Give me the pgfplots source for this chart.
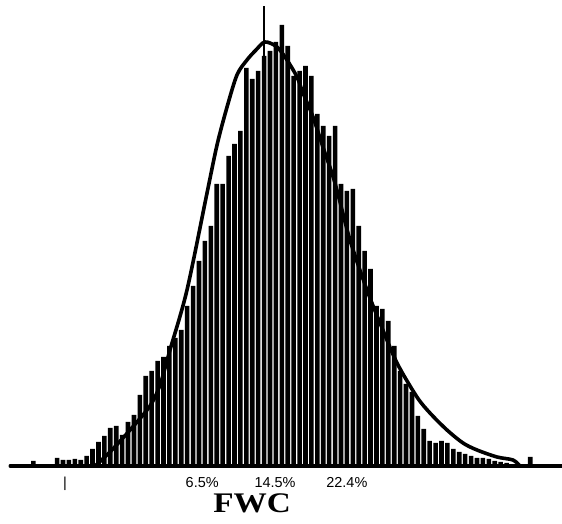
\documentclass[border=0pt]{standalone}
\usepackage{fontspec}
\usepackage{pgfplots}
\usepackage{pgfplotstable}
\pgfplotsset{compat=1.18}
\setmainfont{Liberation Sans}
\newfontfamily\titlefont[FakeStretch=1.17]{Liberation Serif}

% FWC histogram: bin centre (%) and frequency
\pgfplotstableread{
x      h
-12.05 5
-9.45  8
-8.8   6
-8.15  6
-7.5   7
-6.85  6
-6.2   10
-5.55  17
-4.9   24
-4.25  30
-3.6   38
-2.95  40
-2.3   31
-1.65  44
-1.0   51
-0.35  71
0.3    90
0.95   95
1.6    105
2.25   109
2.9    120
3.55   128
4.2    136
4.85   160
5.5    180
6.15   205
6.8    225
7.45   240
8.1    282
8.75   282
9.4    310
10.05  322
10.7   335
11.35  398
12.0   387
12.65  395
13.3   410
13.95  415
14.6   424
15.25  441
15.9   420
16.55  390
17.2   395
17.85  400
18.5   390
19.15  352
19.8   340
20.45  330
21.1   340
21.75  282
22.4   275
23.05  277
23.7   240
24.35  215
25.0   197
25.65  160
26.3   157
26.95  145
27.6   120
28.25  95
28.9   82
29.55  74
30.2   50
30.85  37
31.5   25
32.15  23
32.8   25
33.45  23
34.1   17
34.75  14
35.4   12
36.05  10
36.7   8
37.35  8
38.0   7
38.65  5
39.3   4
39.95  3
42.55  9
}\histdata

% fitted density curve
\pgfplotstableread{
x      h
-5.28  0
-3.63  14
-1.43  36
0.76   60
1.86   81
2.96   116
4.83   176
7.03   273
8.13   321
9.23   359
10.32  391
11.42  406
12.41  416
13.40  424
14.72  419
15.82  406
16.92  389
17.58  373
18.68  349
19.77  319
21.09  283
22.74  226
24.61  176
26.04  143
27.91  103
30.10  69
31.53  53
33.40  36
35.16  23
36.70  16
38.90  9
40.65  6
41.42  0
}\fitdata

\begin{document}
\begin{tikzpicture}
\begin{axis}[
  at={(0,58bp)}, anchor=south west,
  width=562bp, height=466bp, scale only axis,
  xmin=-15.72, xmax=46.04, ymin=0, ymax=466,
  clip=false,
  axis line style={draw=none},
  ytick=\empty,
  xtick={-8.58,6.5,14.5,22.4},
  xticklabels={|,6.5\%,14.5\%,22.4\%},
  major tick length=0pt,
  /pgf/number format/assume math mode=true,
  xticklabel style={anchor=base, yshift=-21bp, font=\fontsize{14.5}{15}\selectfont},
  xlabel={FWC},
  xlabel style={at={(axis description cs:0.4484,0)}, anchor=base, yshift=-46bp,
    font=\titlefont\bfseries\fontsize{28.5}{29}\selectfont},
]
\addplot[ybar, bar width=4.6bp, fill=black, draw=none] table[x=x, y=h] {\histdata};
\addplot[ybar, bar width=1.6bp, fill=black, draw=none] coordinates {(13.3,460)};
\addplot[black, line width=3bp, line cap=round] coordinates {(-14.62,0) (46.04,0)};
\addplot[black, line width=3.6bp, smooth, tension=0.5] table[x=x, y=h] {\fitdata};
\end{axis}
\pgfresetboundingbox
\useasboundingbox (0,0) rectangle (562bp,524bp);
\end{tikzpicture}
\end{document}
